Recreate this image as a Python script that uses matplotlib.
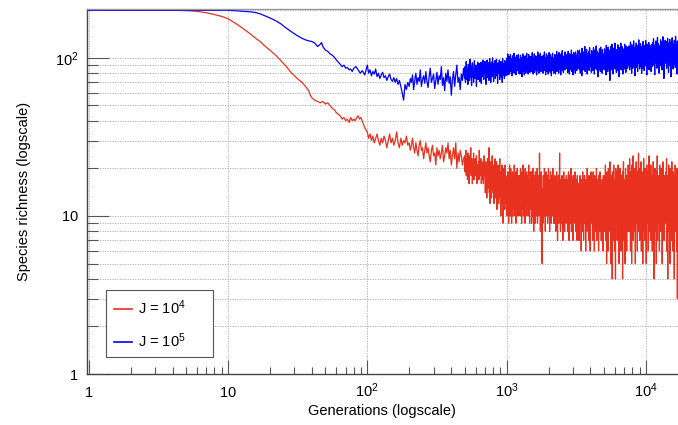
import numpy as np
import matplotlib
matplotlib.use('Agg')
import matplotlib.pyplot as plt
from matplotlib.ticker import FixedLocator, NullFormatter
from matplotlib.patches import Rectangle

plt.rcParams['font.family'] = ['Liberation Sans', 'DejaVu Sans']
plt.rcParams['mathtext.fontset'] = 'custom'
plt.rcParams['mathtext.rm'] = 'Liberation Sans'
plt.rcParams['mathtext.it'] = 'Liberation Sans:italic'

# ---------------- data ----------------
labels = ['J = $\\mathregular{10^{4}}$', 'J = $\\mathregular{10^{5}}$']
colors = ['#e8321f', '#0000ff']

# early, smooth part (explicit generations)
red_early_gen = [1, 4, 5, 6, 7, 8, 9, 10, 11, 12, 13, 14, 15, 16, 17, 18, 19, 20, 22, 24, 26, 28,
                 30, 32, 34, 36, 38, 39, 40, 42, 44, 46, 48, 50, 52, 54, 56, 58, 60, 62, 64, 66,
                 68, 70, 72, 74, 76, 78, 80, 82, 84, 86, 88, 90, 93, 96]
red_early_val = [200, 200, 199, 197, 193, 188, 183, 177, 168, 160, 152, 145, 138, 132, 127, 121,
                 116, 112, 104, 96, 89, 82, 77, 73, 70, 66, 62, 58, 56, 54, 53, 52, 53, 51, 52,
                 50, 48, 47, 45, 44, 43, 41, 42, 40, 41, 39, 42, 40, 41, 40, 42, 43, 41, 42, 39, 36]

blue_early_gen = [1, 10, 11, 12, 13, 14, 15, 16, 17, 18, 19, 20, 22, 24, 26, 28, 30, 32, 34, 36,
                  38, 40, 42, 44, 46, 47, 48, 50, 52, 54, 56, 58, 60, 62, 64, 66, 68, 70, 72, 74,
                  76, 78, 80, 83, 86, 89, 92, 96]
blue_early_val = [200, 200, 199, 198, 197, 196, 195, 193, 190, 186, 182, 179, 172, 164, 155, 148,
                  142, 137, 133, 130, 128, 127, 124, 118, 122, 125, 118, 112, 110, 106, 104, 101,
                  97, 94, 91, 88, 90, 86, 87, 84, 85, 82, 86, 88, 84, 80, 83, 78]

# noisy part, one list per generation window (values listed in time order)
windows = [(100, 200), (200, 500), (500, 700), (700, 1000), (1000, 1500), (1500, 2200),
           (2200, 3300), (3300, 5000), (5000, 7500), (7500, 11000), (11000, 17000)]

red_w100 = [34, 31, 33, 30, 32, 29, 31, 33, 30, 28, 31, 29, 32, 30, 27, 30, 33, 29, 31, 28, 30,
            34, 29, 27, 31, 28, 30, 29, 32, 28]
red_w200 = [29, 26, 28, 31, 27, 25, 29, 26, 24, 28, 30, 26, 27, 23, 26, 29, 25, 27, 24, 22, 26,
            28, 24, 25, 21, 27, 24, 26, 23, 25, 28, 22, 24, 27, 25, 29, 23, 26, 21, 24, 27, 23,
            29, 20, 25, 22, 26, 24, 21, 23]
red_w500 = [24, 19, 22, 26, 18, 21, 23, 17, 25, 20, 22, 16, 24, 19, 21, 27, 18, 20, 23, 16, 22,
            19, 25, 17, 21, 18, 23, 20, 18, 24, 16, 21, 19, 17, 22, 17, 26, 18, 20, 18, 23, 16,
            19, 21, 17, 22, 16, 20, 24, 18]
red_w700 = [19, 14, 22, 16, 20, 13, 18, 23, 15, 21, 17, 27, 14, 19, 12, 22, 16, 20, 13, 18, 24,
            15, 21, 14, 17, 12, 20, 16, 23, 13, 19, 15, 22, 11, 18, 14, 21, 16, 12, 20, 15, 23,
            13, 17, 10, 19, 14, 21, 12, 18, 9, 16, 20, 13, 17, 11, 21, 14, 18, 12]
red_w1000 = [14, 10, 17, 12, 19, 11, 15, 9, 18, 13, 21, 10, 16, 12, 20, 11, 14, 9, 17, 13, 19,
             10, 15, 12, 18, 11, 21, 13, 10, 16, 12, 19, 9, 14, 17, 11, 20, 12, 15, 10, 18, 13, 16,
             12, 18, 10, 15, 20, 11, 17, 13, 9, 19, 14, 11, 16, 21, 10, 13, 18, 12, 15, 9, 20,
             11, 17, 14, 10, 19, 12, 16, 13, 18, 10, 15, 21, 11, 14, 9, 17, 12, 19, 13]
red_w1500 = [11, 19, 9, 14, 17, 10, 20, 12, 15, 8, 18, 11, 16, 13, 9, 19, 12, 14, 10, 17, 11,
             20, 9, 15, 13, 18, 10, 16, 12, 25, 11, 14, 8, 17, 12, 19, 10, 15, 5, 13,
             14, 9, 18, 12, 16, 10, 20, 11, 15, 8, 17, 13, 19, 10, 14, 12, 18, 9, 16, 11, 20, 13,
             10, 15, 8, 17, 12, 19, 11, 14, 9, 18, 13, 16, 10, 20, 12, 15, 9, 17]
red_w2200 = [16, 9, 18, 11, 14, 8, 17, 12, 19, 10, 13, 7, 16, 11, 18, 9, 15, 12, 25, 10, 14, 8,
             17, 11, 13, 9, 18, 12, 15, 7, 16, 10, 19, 11, 14, 8, 17, 12, 10, 15, 9, 18, 11,
             12, 17, 8, 15, 10, 19, 13, 7, 16, 11, 18, 9, 14, 12, 20, 8, 15, 10, 17, 13, 7, 18,
             11, 14, 9, 16, 12, 19, 10, 13, 8, 17, 11, 15, 7, 18, 12, 14, 9, 16]
red_w3300 = [13, 7, 16, 10, 18, 9, 14, 11, 6, 17, 12, 15, 8, 19, 10, 13, 7, 16, 11, 18, 9, 14,
             12, 6, 17, 10, 15, 8, 20, 11, 13, 9, 16, 7, 18, 12, 14, 10, 6, 17, 11, 19, 9, 15,
             11, 17, 7, 14, 19, 9, 15, 12, 6, 18, 10, 13, 8, 16, 11, 20, 7, 14, 12, 17, 9, 15, 6,
             18, 11, 13, 8, 19, 10, 16, 12, 7, 15, 9, 17, 11, 14, 6, 18, 10]
red_w5000 = [10, 18, 8, 14, 12, 21, 7, 16, 11, 5, 19, 13, 9, 15, 6, 20, 11, 17, 8, 13, 22, 10,
             14, 5, 18, 12, 9, 16, 4, 19, 11, 15, 7, 21, 10, 13, 6, 17, 12, 4, 20, 9, 14,
             12, 19, 7, 15, 10, 21, 9, 14, 5, 17, 11, 20, 8, 13, 16, 6, 18, 12, 9, 15, 4, 19, 11,
             22, 7, 14, 10, 17, 5, 13, 20, 9, 16, 11, 6, 18, 12, 15, 8, 21]
red_w7500 = [11, 18, 8, 15, 23, 10, 13, 6, 19, 12, 16, 5, 21, 9, 14, 11, 24, 7, 17, 12, 10, 20,
             8, 15, 5, 18, 13, 22, 9, 16, 11, 6, 19, 14, 10, 25, 8, 17, 12, 7, 20,
             9, 17, 12, 22, 6, 15, 10, 19, 13, 5, 18, 11, 23, 8, 14, 16, 7, 20, 12, 10, 17, 5, 15,
             21, 9, 13, 11, 19, 6, 16, 12, 24, 8, 14, 10, 18, 7, 21, 13, 9]
red_w11000 = [10, 15, 6, 18, 12, 22, 9, 14, 4, 17, 11, 20, 8, 16, 13, 5, 19, 10, 24, 7, 15, 12,
              18, 9, 14, 6, 21, 11, 16, 8, 13, 20, 10, 17, 5, 15, 12, 22, 9, 14, 7, 18, 11, 16,
              14, 9, 19, 11, 23, 6, 16, 12, 4, 18, 10, 21, 8, 15, 13, 5, 20, 11, 17, 7, 14, 22, 9,
              16, 12, 6, 19, 10, 15, 4, 18, 13, 21, 8, 14, 11, 17, 6, 20, 3, 12]

blue_w100 = [90, 80, 84, 77, 82, 79, 85, 76, 80, 74, 78, 81, 75, 77, 72, 76, 79, 73, 71, 75, 70,
             74, 68, 72, 66, 60, 54, 68, 63, 70]
blue_w200 = [66, 74, 70, 78, 63, 72, 80, 68, 75, 71, 84, 66, 73, 77, 69, 82, 71, 65, 76, 86, 70,
             74, 79, 64, 72, 81, 68, 77, 73, 88, 67, 75, 62, 80, 71, 84, 69, 76, 58, 73, 82, 66,
             78, 90, 70, 75, 63, 79, 72, 86]
blue_w500 = [74, 88, 70, 82, 95, 73, 79, 86, 68, 91, 77, 84, 72, 98, 80, 75, 89, 67, 83, 93, 76,
             81, 70, 87, 96, 74, 85, 79, 90, 66, 84, 78, 94, 73, 86, 81, 92, 71, 88, 77, 94, 69,
             85, 90, 76, 97, 82, 73, 87, 79]
blue_w700 = [95, 79, 84, 68, 91, 80, 97, 75, 88, 83, 93, 72, 86, 99, 78, 90, 70, 85, 94, 81, 76,
             100, 83, 89, 71, 92, 79, 87, 96, 74, 85, 81, 98, 77, 90, 69, 86, 93, 80, 84, 97, 73,
             88, 82, 95, 76, 91, 85, 70, 99, 83, 78, 92, 86, 74, 96, 81, 89, 77, 94]
blue_w1000 = [92, 80, 100, 85, 106, 78, 95, 88, 83, 102, 79, 97, 90, 105, 82, 94, 86, 99, 77,
              91, 103, 84, 96, 81, 89, 107, 87, 93, 80, 101, 85, 98, 78, 94, 104, 88, 83, 99, 91,
              86, 105, 80, 95,
              84, 98, 79, 92, 104, 87, 81, 100, 90, 76, 96, 86, 106, 82, 93, 89, 101, 78, 95, 85,
              103, 88, 80, 97, 91, 107, 83, 94, 86, 99, 79, 92, 105, 84, 90, 98, 81, 102, 87, 95]
blue_w1500 = [89, 102, 82, 96, 108, 85, 93, 79, 100, 90, 87, 106, 81, 97, 92, 84, 103, 88, 95,
              78, 101, 91, 86, 109, 83, 98, 94, 80, 104, 89, 96, 85, 107, 92, 82, 99, 88, 102,
              86, 94,
              91, 80, 104, 87, 97, 83, 109, 90, 85, 100, 78, 95, 88, 106, 82, 98, 92, 86, 103, 79,
              96, 89, 108, 84, 93, 99, 81, 105, 88, 94, 77, 101, 90, 86, 107, 83, 97, 92, 80, 100]
blue_w2200 = [97, 84, 105, 90, 79, 101, 93, 87, 110, 82, 98, 92, 104, 86, 95, 80, 108, 91, 99,
              85, 102, 94, 78, 106, 89, 97, 83, 111, 92, 88, 100, 81, 96, 103, 87, 93, 109, 84,
              98, 90, 105, 86, 95,
              88, 102, 81, 96, 110, 85, 93, 99, 79, 106, 90, 84, 103, 94, 87, 112, 82, 97, 91,
              105, 78, 99, 88, 108, 93, 85, 101, 96, 80, 109, 89, 95, 104, 83, 98, 92, 111, 86,
              100, 90]
blue_w3300 = [100, 85, 112, 92, 97, 80, 107, 89, 103, 94, 77, 115, 88, 99, 84, 109, 93, 101,
              86, 96, 118, 82, 104, 91, 98, 87, 113, 95, 79, 106, 90, 102, 85, 110, 97, 83, 116,
              92, 100, 88, 105, 94, 81, 111,
              94, 108, 83, 101, 90, 116, 87, 98, 79, 112, 95, 86, 105, 92, 119, 84, 100, 89, 110,
              96, 76, 107, 93, 102, 85, 114, 91, 98, 82, 117, 95, 88, 104, 99, 80, 113, 90, 106,
              86, 101]
blue_w5000 = [96, 84, 114, 99, 89, 107, 93, 78, 120, 101, 87, 109, 95, 82, 117, 91, 104, 86,
              112, 98, 72, 106, 93, 118, 88, 101, 84, 122, 96, 108, 90, 79, 115, 100, 87, 111,
              94, 124, 85, 103, 92, 110, 81,
              89, 113, 97, 83, 121, 101, 92, 108, 76, 116, 95, 87, 111, 99, 124, 84, 104, 93, 118,
              88, 102, 79, 114, 96, 90, 109, 85, 122, 100, 94, 106, 81, 119, 97, 88, 112, 103, 86,
              117, 92]
blue_w7500 = [104, 90, 119, 97, 84, 112, 101, 126, 88, 107, 95, 80, 121, 99, 110, 86, 115, 93,
              128, 103, 89, 109, 96, 77, 117, 100, 91, 124, 105, 87, 113, 98, 82, 120, 94, 108,
              130, 92, 102, 85, 118,
              97, 123, 88, 109, 100, 80, 118, 94, 113, 86, 127, 102, 91, 115, 83, 106, 120, 96, 89,
              129, 104, 93, 111, 78, 122, 99, 87, 116, 105, 92, 125, 84, 108, 98, 119, 90, 112,
              101, 82, 121]
blue_w11000 = [99, 111, 88, 125, 103, 95, 132, 90, 114, 100, 78, 121, 107, 93, 128, 97, 116,
               86, 110, 135, 101, 91, 123, 105, 80, 119, 98, 113, 89, 130, 104, 94, 126, 108,
               84, 117, 100, 136, 96, 112, 74, 122, 106, 92, 129, 103,
               94, 127, 108, 86, 119, 101, 133, 92, 113, 81, 124, 105, 97, 131, 89, 116, 102, 76,
               126, 110, 95, 134, 99, 118, 85, 122, 106, 91, 129, 100, 114, 87, 137, 104, 93, 120,
               109, 79, 128, 98]

red_windows = [red_w100, red_w200, red_w500, red_w700, red_w1000, red_w1500, red_w2200,
               red_w3300, red_w5000, red_w7500, red_w11000]
blue_windows = [blue_w100, blue_w200, blue_w500, blue_w700, blue_w1000, blue_w1500, blue_w2200,
                blue_w3300, blue_w5000, blue_w7500, blue_w11000]

x_ticks = [1, 10, 100, 1000, 10000]
x_ticklabels = ['$\\mathregular{1}$', '$\\mathregular{10}$', '$\\mathregular{10^{2}}$',
                '$\\mathregular{10^{3}}$', '$\\mathregular{10^{4}}$']
y_ticks = [1, 10, 100]
y_ticklabels = ['$\\mathregular{1}$', '$\\mathregular{10}$', '$\\mathregular{10^{2}}$']


def build(early_gen, early_val, wins):
    g = list(early_gen)
    v = list(early_val)
    for (a, b), vals in zip(windows, wins):
        g.extend(np.geomspace(a, b, len(vals), endpoint=False))
        v.extend(vals)
    return np.array(g), np.array(v, dtype=float)


red_g, red_v = build(red_early_gen, red_early_val, red_windows)
blue_g, blue_v = build(blue_early_gen, blue_early_val, blue_windows)

# ---------------- figure ----------------
fig = plt.figure(figsize=(6.78, 4.25), dpi=100)
ax = fig.add_axes([0.128, 0.12, 0.872, 0.859])
ax.set_xscale('log')
ax.set_yscale('log')
ax.set_xlim(0.97, 17000)
ax.set_ylim(1, 204)

ax.plot(red_g, red_v, color=colors[0], lw=0.9, label=labels[0])
ax.plot(blue_g, blue_v, color=colors[1], lw=0.9, label=labels[1])

grid_kw = dict(color='#a8a8a8', linestyle=(0, (1.5, 1.5)), linewidth=0.6)
ax.xaxis.set_major_locator(FixedLocator(x_ticks))
ax.set_xticklabels(x_ticklabels, va='baseline')
xminor = [m * 10 ** e for e in range(0, 5) for m in range(2, 10) if m * 10 ** e < 17000]
ax.xaxis.set_minor_locator(FixedLocator(xminor))
ax.xaxis.set_minor_formatter(NullFormatter())
ax.yaxis.set_major_locator(FixedLocator(y_ticks))
ax.set_yticklabels(y_ticklabels)
yminor = [m * 10 ** e for e in range(0, 3) for m in range(2, 10) if m * 10 ** e < 204]
ax.yaxis.set_minor_locator(FixedLocator(yminor))
ax.yaxis.set_minor_formatter(NullFormatter())

ax.grid(True, which='major', axis='both', **grid_kw)
ax.grid(True, which='minor', axis='y', **grid_kw)
ax.set_axisbelow(True)

ax.tick_params(axis='x', which='major', direction='in', length=10, width=0.8,
               color='#555555', pad=16.5, labelsize=10.5)
ax.tick_params(axis='x', which='minor', direction='in', length=5, width=0.8, color='#555555')
ax.tick_params(axis='y', which='major', direction='in', length=16, width=0.8,
               color='#555555', pad=6, labelsize=10.5)
ax.tick_params(axis='y', which='minor', direction='in', length=8, width=0.8, color='#555555')

for s in ['left', 'bottom']:
    ax.spines[s].set_color('#444444')
    ax.spines[s].set_linewidth(1.0)
ax.spines['top'].set_color('#999999')
ax.spines['top'].set_linewidth(1.0)
ax.spines['right'].set_visible(False)

ax.set_xlabel('Generations (logscale)', fontsize=10.5, labelpad=3)
ax.set_ylabel('Species richness (logscale)', fontsize=10.5, labelpad=17)

# legend box (drawn as a frame of fixed size, like the reference)
ax.add_patch(Rectangle((0.032, 0.047), 0.181, 0.183, transform=ax.transAxes,
                       facecolor='white', edgecolor='#555555', linewidth=0.8, zorder=4))
leg = ax.legend(loc='upper left', bbox_to_anchor=(0.032, 0.232), frameon=False,
                fontsize=10.5, handlelength=1.2, handletextpad=0.4, labelspacing=1.0,
                borderpad=0.6, borderaxespad=0)
leg.set_zorder(5)
for line in leg.get_lines():
    line.set_linewidth(1.2)

fig.savefig('out.png', dpi=100)
